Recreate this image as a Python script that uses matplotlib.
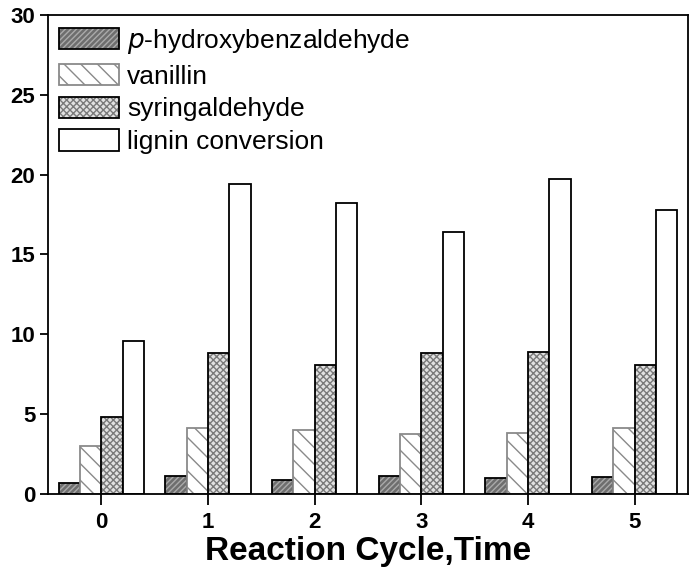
import numpy as np
import matplotlib.pyplot as plt
import matplotlib.patches as mpatches
from matplotlib.legend_handler import HandlerBase

plt.rcParams["font.family"] = ["Liberation Sans", "DejaVu Sans"]
plt.rcParams["hatch.linewidth"] = 1.0

cycles = [0, 1, 2, 3, 4, 5]
p_hydroxy = [0.7, 1.1, 0.9, 1.1, 1.0, 1.05]
vanillin = [3.0, 4.1, 4.0, 3.75, 3.8, 4.1]
syringaldehyde = [4.8, 8.8, 8.1, 8.8, 8.9, 8.1]
lignin_conv = [9.6, 19.4, 18.2, 16.4, 19.7, 17.8]

labels = ["$\\it{p}$-hydroxybenzaldehyde", "vanillin", "syringaldehyde", "lignin conversion"]
series = [p_hydroxy, vanillin, syringaldehyde, lignin_conv]
# (face, hatch, hatch colour, edge colour)
styles = [
    ("#6e6e6e", "//////", "#aaaaaa", "black"),
    ("white", "\\\\", "#8a8a8a", "#8a8a8a"),
    ("#e2e2e2", "xxxxx", "#7a7a7a", "black"),
    ("white", "", "black", "black"),
]


class HatchBox(HandlerBase):
    # hatched patch with a separate outline colour
    def __init__(self, fc, hatch, hc, ec):
        super().__init__()
        self.s = (fc, hatch, hc, ec)

    def create_artists(self, legend, orig, xd, yd, width, height, fontsize, trans):
        fc, hatch, hc, ec = self.s
        a = mpatches.Rectangle((-xd, -yd), width, height, facecolor=fc, hatch=hatch,
                               edgecolor=hc, linewidth=0, transform=trans)
        b = mpatches.Rectangle((-xd, -yd), width, height, facecolor="none",
                               edgecolor=ec, linewidth=1.3, transform=trans)
        return [a, b]


fig = plt.figure(figsize=(6.95, 5.73), dpi=100)
ax = fig.add_axes([0.069, 0.138, 0.921, 0.836])

x = np.arange(len(cycles))
w = 0.2
offsets = [-0.3, -0.1, 0.1, 0.3]
handles = []
for vals, off, (fc, hatch, hc, ec) in zip(series, offsets, styles):
    ax.bar(x + off, vals, w, color=fc, hatch=hatch, edgecolor=hc, linewidth=0)
    ax.bar(x + off, vals, w, facecolor="none", edgecolor=ec, linewidth=1.3)
    handles.append(mpatches.Rectangle((0, 0), 1, 1))

hmap = {h: HatchBox(*s) for h, s in zip(handles, styles)}
ax.legend(handles, labels, handler_map=hmap, loc="upper left", frameon=False,
          fontsize=19, handlelength=2.3, handleheight=0.87, labelspacing=0.3,
          handletextpad=0.3, borderaxespad=0.0, bbox_to_anchor=(0.0, 0.997),
          borderpad=0.4)

ax.set_xlim(-0.5, 5.5)
ax.set_ylim(0, 30)
ax.set_xticks(x)
ax.set_xticklabels([str(c) for c in cycles])
ax.set_yticks(range(0, 31, 5))
ax.tick_params(axis="x", direction="out", length=8, width=1.3, labelsize=16, pad=5)
ax.tick_params(axis="y", direction="out", length=6, width=1.3, labelsize=16, pad=3)
for lab in ax.get_xticklabels() + ax.get_yticklabels():
    lab.set_fontweight("bold")
for sp in ax.spines.values():
    sp.set_linewidth(1.3)
ax.set_xlabel("Reaction Cycle,Time", fontsize=24, fontweight="bold", labelpad=2)

fig.savefig("out.png", dpi=100)
